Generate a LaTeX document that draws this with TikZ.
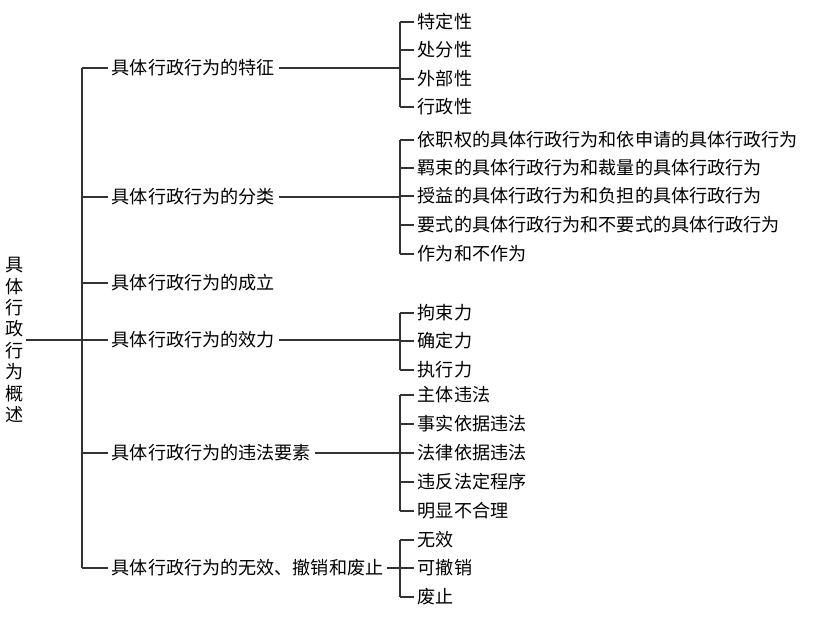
\documentclass[tikz,border=0pt]{standalone}
\usepackage{fontspec}
\setmainfont{Noto Sans CJK SC}
\begin{document}
\begin{tikzpicture}[x=0.02cm,y=-0.02cm,
  txt/.style   ={anchor=west,inner sep=2pt,font=\fontsize{10.3}{12}\selectfont},
  link/.style  ={black!80,line width=0.6pt}
]
  \useasboundingbox (0,0) rectangle (821,617);

  % ----- root -----
  \node[align=center,inner sep=1pt,font=\fontsize{10.3}{12.2}\selectfont] (root) at (15,340)
    {具\\体\\行\\政\\行\\为\\概\\述};
  \coordinate (trunk top) at (82,68);
  \coordinate (trunk bot) at (82,568);
  \draw[link] (root.east) -- (82,340);
  \draw[link] (trunk top) -- (trunk bot);

  % ----- branches -----
  \foreach \name/\y/\label in {b1/68/具体行政行为的特征, b2/197/具体行政行为的分类,
      b3/283/具体行政行为的成立, b4/340/具体行政行为的效力,
      b5/453/具体行政行为的违法要素, b6/568/具体行政行为的无效、撤销和废止}{
    \node[txt] (\name) at (108,\y) {\label};
    \coordinate (\name s) at (82,\y);
    \draw[link] (\name s) -- (\name.west);
  }

  % ----- second-level trunks -----
  \foreach \name/\top/\bot in {b1/22/107, b2/140/254, b4/313/370, b5/395/511, b6/540/597}{
    \coordinate (\name t) at (400,\top);
    \coordinate (\name b) at (400,\bot);
    \coordinate (\name m) at (400,0 |- \name.east);
    \draw[link] (\name.east) -- (\name m);
    \draw[link] (\name t) -- (\name b);
  }

  % ----- leaves -----
  \foreach \name/\y/\label in {
      l11/22/特定性, l12/50/处分性, l13/79/外部性, l14/107/行政性,
      l21/140/依职权的具体行政行为和依申请的具体行政行为,
      l22/168/羁束的具体行政行为和裁量的具体行政行为,
      l23/196/授益的具体行政行为和负担的具体行政行为,
      l24/225/要式的具体行政行为和不要式的具体行政行为,
      l25/254/作为和不作为,
      l41/313/拘束力, l42/341/确定力, l43/370/执行力,
      l51/395/主体违法, l52/424/事实依据违法, l53/453/法律依据违法,
      l54/482/违反法定程序, l55/511/明显不合理,
      l61/540/无效, l62/568/可撤销, l63/597/废止}{
    \node[txt] (\name) at (414,\y) {\label};
    \coordinate (\name s) at (400,\y);
    \draw[link] (\name s) -- (\name.west);
  }
\end{tikzpicture}
\end{document}
